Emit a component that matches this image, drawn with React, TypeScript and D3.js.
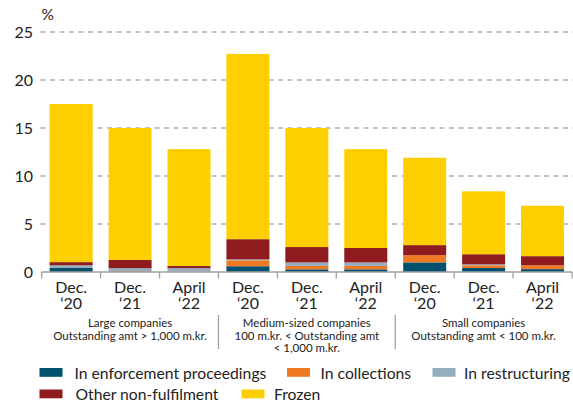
import React from "react";
import * as d3 from "d3";

const periods = ["Dec.|‘20", "Dec.|‘21", "April|‘22", "Dec.|‘20", "Dec.|‘21", "April|‘22", "Dec.|‘20", "Dec.|‘21", "April|‘22"];
const seriesNames = ["In enforcement proceedings", "In collections", "In restructuring", "Other non-fulfilment", "Frozen"];
const seriesColors = ["#00506e", "#f07a23", "#94aebd", "#8f1b1f", "#fecf00"];
const enforcement = [0.42, 0.03, 0.02, 0.6, 0.28, 0.28, 1.0, 0.42, 0.3];
const collections = [0.0, 0.07, 0.03, 0.62, 0.35, 0.35, 0.75, 0.28, 0.4];
const restructuring = [0.28, 0.3, 0.35, 0.1, 0.37, 0.37, 0.0, 0.1, 0.0];
const otherNonFulfilment = [0.33, 0.85, 0.22, 2.1, 1.6, 1.5, 1.05, 1.05, 0.95];
const frozen = [16.47, 13.75, 12.18, 19.3, 12.4, 10.3, 9.1, 6.55, 5.25];
const yTicks = [0, 5, 10, 15, 20, 25];
const groupLabels = [
  ["Large companies", "Outstanding amt > 1,000 m.kr."],
  ["Medium-sized companies", "100 m.kr. < Outstanding amt", "< 1,000 m.kr."],
  ["Small companies", "Outstanding amt < 100 m.kr."],
];

const FONT = "Lato, 'Open Sans', sans-serif";

export default function App() {
  const W = 573, H = 402;
  const idx = periods.map((_, i) => i);
  const x = d3.scaleBand<number>().domain(idx).range([41.7, 572]).paddingInner(0.27).paddingOuter(0.135);
  const y = d3.scaleLinear().domain([0, 25]).range([272, 32]);
  const rows = idx.map((i) => ({
    i,
    s0: enforcement[i],
    s1: collections[i],
    s2: restructuring[i],
    s3: otherNonFulfilment[i],
    s4: frozen[i],
  }));
  const stack = d3.stack<any>().keys(["s0", "s1", "s2", "s3", "s4"]);
  const layers = stack(rows);
  const step = x.step();
  const x0 = 41.7;
  const boundaries = d3.range(10).map((k) => x0 + k * step);
  const groupCenters = [0, 1, 2].map((g) => x0 + (g * 3 + 1.5) * step);

  const legendItems = [
    { k: 0, sx: 39.5, sy: 368, tx: 74.5, ty: 378.5 },
    { k: 1, sx: 287, sy: 368, tx: 320.5, ty: 378.5 },
    { k: 2, sx: 432.5, sy: 368, tx: 464, ty: 378.5 },
    { k: 3, sx: 39.5, sy: 389.5, tx: 75.5, ty: 399.5 },
    { k: 4, sx: 241.5, sy: 389.5, tx: 274, ty: 399.5 },
  ];

  return (
    <svg width={W} height={H} style={{ position: "absolute", left: 0, top: 0, fontFamily: FONT }}>
      <rect width={W} height={H} fill="#fff" />
      <text x={41.5} y={20} fontSize={15.5} fill="#222">%</text>
      {yTicks.filter((t) => t > 0).map((t) => (
        <line key={t} x1={40.5} x2={W} y1={y(t)} y2={y(t)} stroke="#b0b0b0" strokeWidth={1.3} strokeDasharray="5,4.5" />
      ))}
      {yTicks.map((t) => (
        <text key={t} x={33} y={y(t) + 5.8} fontSize={16} textAnchor="end" fill="#222">{t}</text>
      ))}
      {layers.map((layer, k) => (
        <g key={k} fill={seriesColors[k]}>
          {layer.map((d, i) => (
            <rect key={i} x={x(i)} width={x.bandwidth()} y={y(d[1])} height={Math.max(0, y(d[0]) - y(d[1]))} />
          ))}
        </g>
      ))}
      <line x1={x0} x2={boundaries[9]} y1={272} y2={272} stroke="#a0a0a0" strokeWidth={1.5} />
      {boundaries.map((b, k) => (
        <line key={k} x1={b} x2={b} y1={272} y2={278.5} stroke="#a0a0a0" strokeWidth={1.3} />
      ))}
      {periods.map((p, i) => {
        const [a, b] = p.split("|");
        const cx = (x(i) as number) + x.bandwidth() / 2;
        return (
          <g key={i} fontSize={16} fill="#222" textAnchor="middle">
            <text x={cx} y={292.5}>{a}</text>
            <text x={cx} y={309}>{b}</text>
          </g>
        );
      })}
      {groupLabels.map((lines, g) => (
        <g key={g} fontSize={11.5} fill="#222" textAnchor="middle">
          {lines.map((l, j) => (
            <text key={j} x={groupCenters[g]} y={327 + j * 12.7}>{l}</text>
          ))}
        </g>
      ))}
      {[3, 6].map((k) => (
        <line key={k} x1={boundaries[k]} x2={boundaries[k]} y1={315} y2={349} stroke="#a0a0a0" strokeWidth={1.3} />
      ))}
      {legendItems.map((it) => (
        <g key={it.k}>
          <rect x={it.sx} y={it.sy} width={23} height={8.8} fill={seriesColors[it.k]} />
          <text x={it.tx} y={it.ty} fontSize={15.7} fill="#222">{seriesNames[it.k]}</text>
        </g>
      ))}
    </svg>
  );
}
